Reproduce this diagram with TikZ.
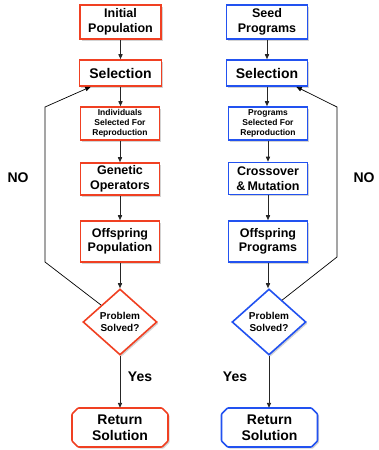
\documentclass[tikz,border=0pt]{standalone}
\usepackage{fontspec}
\setmainfont{Liberation Sans}
\usetikzlibrary{shapes.geometric,shadows,arrows.meta,calc}
\definecolor{gared}{RGB}{240,64,34}
\definecolor{gpblue}{RGB}{34,82,240}
\begin{document}
\begin{tikzpicture}[x=1pt,y=-1pt,
  shad/.style={drop shadow={shadow xshift=1.6pt, shadow yshift=-1.6pt, opacity=0.35}},
  box/.style={draw=#1, line width=1.6pt, fill=white, inner sep=0pt, align=center, shad},
  dia/.style={draw=#1, line width=1.6pt, fill=white, inner sep=0pt, align=center,
    shape=diamond, minimum width=74, minimum height=66,
    font=\bfseries\fontsize{10}{11.5}\selectfont, shad},
  retline/.style={draw=#1, line width=1.6pt, fill=white, rounded corners=0.8pt, shad},
  rettext/.style={inner sep=0pt, align=center, minimum width=96, minimum height=39,
    font=\bfseries\fontsize{14}{16}\selectfont},
  big/.style={font=\bfseries\fontsize{12.5}{14.5}\selectfont},
  sel/.style={font=\bfseries\fontsize{14}{16}\selectfont},
  small/.style={font=\bfseries\fontsize{8.5}{10}\selectfont},
  conn/.style={draw=black!85, line width=0.9pt, -{Triangle[length=5pt,width=4.2pt]}},
  loop/.style={draw=black, line width=0.7pt, -{Triangle[length=5.5pt,width=4.5pt]}},
  lbl/.style={font=\bfseries\fontsize{14}{16}\selectfont, inner sep=0pt}
]
\useasboundingbox (0,0) rectangle (379,450);

% left column
\node[box=gared, big, minimum width=81, minimum height=34] (init1) at (120.5,22) {Initial\\Population};
\node[box=gared, sel, minimum width=82, minimum height=26] (sel1) at (120.5,73) {Selection};
\node[box=gared, small, minimum width=79, minimum height=33] (ind1) at (120,123.5) {Individuals\\Selected For\\Reproduction};
\node[box=gared, big, minimum width=79, minimum height=32] (gen1) at (120,179) {Genetic\\Operators};
\node[box=gared, big, minimum width=79, minimum height=41] (off1) at (120,241.5) {Offspring\\Population};
\node[dia=gared] (d1) at (120,322) {Problem\\Solved?};
\coordinate (rc1) at (120,427.5);
\path[retline=gared] ($(rc1)+(-48,-13.5)$) -- ($(rc1)+(-42,-19.5)$) -- ($(rc1)+(42,-19.5)$)
  -- ($(rc1)+(48,-13.5)$) -- ($(rc1)+(48,13.5)$) -- ($(rc1)+(42,19.5)$)
  -- ($(rc1)+(-42,19.5)$) -- ($(rc1)+(-48,13.5)$) -- cycle;
\node[rettext] (r1) at (rc1) {Return\\Solution};

% right column
\node[box=gpblue, big, minimum width=81, minimum height=34] (init2) at (267,22) {Seed\\Programs};
\node[box=gpblue, sel, minimum width=81, minimum height=26] (sel2) at (267,73) {Selection};
\node[box=gpblue, small, minimum width=79, minimum height=33] (ind2) at (268,123.5) {Programs\\Selected For\\Reproduction};
\node[box=gpblue, big, minimum width=79, minimum height=32] (gen2) at (268,178.5) {Crossover\\\&\,Mutation};
\node[box=gpblue, big, minimum width=79, minimum height=41] (off2) at (268,241.5) {Offspring\\Programs};
\node[dia=gpblue] (d2) at (269,322) {Problem\\Solved?};
\coordinate (rc2) at (269.5,427.5);
\path[retline=gpblue] ($(rc2)+(-48,-13.5)$) -- ($(rc2)+(-42,-19.5)$) -- ($(rc2)+(42,-19.5)$)
  -- ($(rc2)+(48,-13.5)$) -- ($(rc2)+(48,13.5)$) -- ($(rc2)+(42,19.5)$)
  -- ($(rc2)+(-42,19.5)$) -- ($(rc2)+(-48,13.5)$) -- cycle;
\node[rettext] (r2) at (rc2) {Return\\Solution};

% labels
\node[lbl] (no1) at (18,178) {NO};
\node[lbl] (no2) at (364,178) {NO};
\node[lbl] (yes1) at (140,377) {Yes};
\node[lbl] (yes2) at (235,377) {Yes};

% straight connectors left
\draw[conn] (init1.south) -- (init1.south |- sel1.north);
\draw[conn] (sel1.south) -- (sel1.south |- ind1.north);
\draw[conn] (ind1.south) -- (ind1.south |- gen1.north);
\draw[conn] (gen1.south) -- (gen1.south |- off1.north);
\draw[conn] (off1.south) -- (off1.south |- d1.north);
\draw[conn] (d1.south) -- (d1.south |- r1.north);
% straight connectors right
\draw[conn] (init2.south) -- (init2.south |- sel2.north);
\draw[conn] (sel2.south) -- (sel2.south |- ind2.north);
\draw[conn] (ind2.south) -- (ind2.south |- gen2.north);
\draw[conn] (gen2.south) -- (gen2.south |- off2.north);
\draw[conn] (off2.south) -- (off2.south |- d2.north);
\draw[conn] (d2.south) -- (d2.south |- r2.north);

% loops
\coordinate (la) at (45,262);
\coordinate (lb) at (45,107);
\coordinate (lt) at ($(sel1.south west)+(12,0)$);
\draw[loop] (d1.north west) -- (la) -- (lb) -- (lt);
\coordinate (ra) at (337,257);
\coordinate (rb) at (337,107);
\coordinate (rt) at ($(sel2.south east)+(-12,0)$);
\coordinate (rs) at ($(d2.north)!0.35!(d2.east)$);
\draw[loop] (rs) -- (ra) -- (rb) -- (rt);
\end{tikzpicture}
\end{document}
